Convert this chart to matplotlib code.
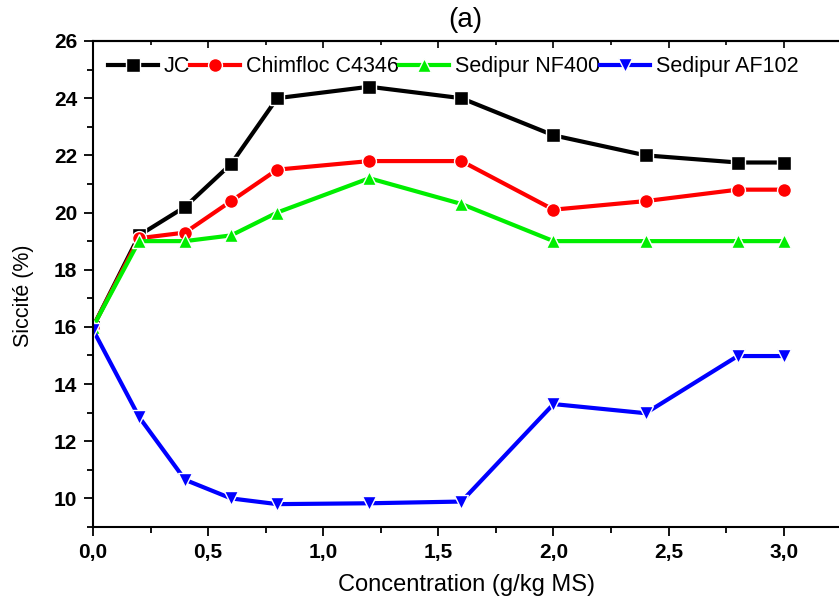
import matplotlib
matplotlib.use("Agg")
import matplotlib.pyplot as plt
from matplotlib.ticker import MultipleLocator, FuncFormatter

plt.rcParams['font.family'] = ['Liberation Sans', 'DejaVu Sans']

conc = [0.0, 0.2, 0.4, 0.6, 0.8, 1.2, 1.6, 2.0, 2.4, 2.8, 3.0]
jc = [16.0, 19.2, 20.2, 21.7, 24.0, 24.4, 24.0, 22.7, 22.0, 21.75, 21.75]
chimfloc = [16.0, 19.1, 19.3, 20.4, 21.5, 21.8, 21.8, 20.1, 20.4, 20.8, 20.8]
nf400 = [16.0, 19.0, 19.0, 19.2, 20.0, 21.2, 20.3, 19.0, 19.0, 19.0, 19.0]
af102 = [15.9, 12.85, 10.65, 10.0, 9.8, 9.83, 9.89, 13.3, 12.98, 14.98, 14.98]

series = [
    ("JC", jc, "black", "s"),
    ("Chimfloc C4346", chimfloc, "red", "o"),
    ("Sedipur NF400", nf400, "#00ee00", "^"),
    ("Sedipur AF102", af102, "blue", "v"),
]

fig = plt.figure(figsize=(8.39, 6.05), dpi=100)
ax = fig.add_axes([93/839, 1 - 527/605, 1 - 93/839, (527 - 41)/605])

for name, vals, col, mk in series:
    ax.plot(conc, vals, color=col, lw=3, marker=mk, markersize=10,
            markeredgecolor='white', markeredgewidth=1.0, label=name)

ax.set_xlim(0, 3.24)
ax.set_ylim(9, 26)
ax.xaxis.set_major_locator(MultipleLocator(0.5))
ax.xaxis.set_minor_locator(MultipleLocator(0.25))
ax.yaxis.set_major_locator(MultipleLocator(2))
ax.yaxis.set_minor_locator(MultipleLocator(1))
ax.xaxis.set_major_formatter(FuncFormatter(lambda v, p: f"{v:.1f}".replace('.', ',')))
ax.yaxis.set_major_formatter(FuncFormatter(lambda v, p: f"{v:.0f}"))

ax.tick_params(axis='both', which='major', direction='out', length=6.5, width=1.3,
               labelsize=15, pad=5)
ax.tick_params(axis='both', which='minor', direction='out', length=4, width=1.3)
for t in ax.get_xticklabels() + ax.get_yticklabels():
    t.set_fontweight('bold')
for sp in ax.spines.values():
    sp.set_linewidth(1.5)
ax.spines['right'].set_visible(False)

sec = ax.secondary_xaxis('top')
sec.xaxis.set_major_locator(MultipleLocator(0.5))
sec.xaxis.set_minor_locator(MultipleLocator(0.25))
sec.tick_params(which='major', direction='in', length=5, width=1.2, labeltop=False)
sec.tick_params(which='minor', direction='in', length=3, width=1.2)
sec.spines['top'].set_linewidth(1.5)

ax.set_xlabel("Concentration (g/kg MS)", fontsize=17, labelpad=9)
ax.set_ylabel("Siccité (%)", fontsize=15.5, labelpad=14, y=0.475)
ax.set_title("(a)", fontsize=20, pad=10, x=(465 - 93) / (839 - 93))

leg = ax.legend(loc='upper left', ncol=4, frameon=False, fontsize=15.5,
                handlelength=2.3, handletextpad=0.3, columnspacing=0.0,
                borderaxespad=0.3, bbox_to_anchor=(0.0, 1.0))

fig.savefig("out.png", dpi=100)
